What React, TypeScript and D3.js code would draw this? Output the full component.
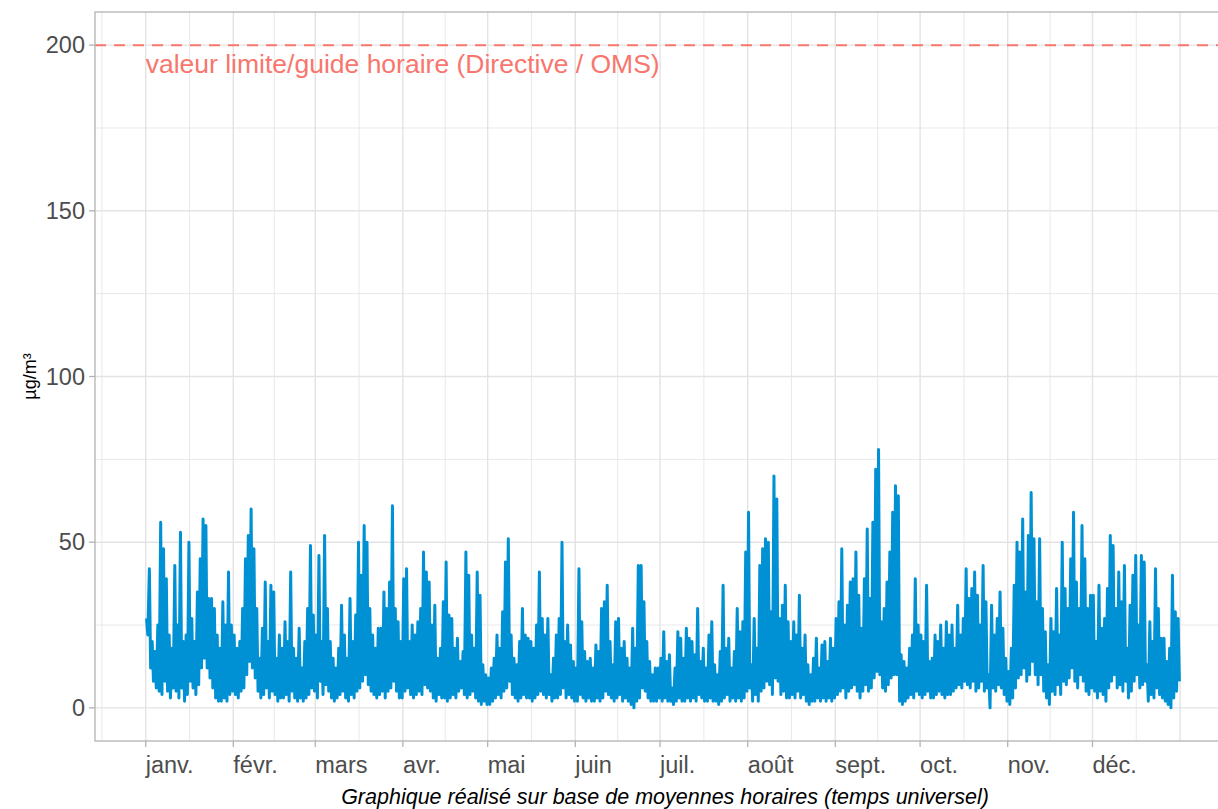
import React from "react";
import * as d3 from "d3";

// Daily maxima (µg/m³), 2024, per month
const hiJan = [27,42,20,17,25,56,48,39,22,18,43,25,53,20,22,50,27,20,35,45,57,55,33,33,30,22,18,32,25,41,25];
const hiFeb = [22,18,20,30,45,52,60,48,30,15,24,38,20,37,35,15,22,18,26,20,41,18,15,24,12,20,30,49,28];
const hiMar = [22,46,20,52,30,20,15,12,18,31,22,15,33,20,28,50,40,55,50,30,22,18,24,24,35,30,38,61,30,26,20];
const hiApr = [39,42,20,25,22,26,30,47,41,38,25,31,15,18,32,44,28,27,18,21,14,17,47,40,22,18,41,34,13,10];
const hiMay = [9,12,15,22,18,29,44,51,22,15,13,20,30,22,21,20,18,25,41,27,22,27,10,15,22,27,50,20,25,19,14];
const hiJun = [12,42,26,17,14,15,12,19,17,30,32,37,20,13,26,27,18,20,15,12,24,18,43,43,32,20,14,10,12,12];
const hiJul = [15,23,14,16,6,12,23,21,15,24,21,20,16,30,14,18,12,22,26,13,10,17,37,18,21,12,17,30,23,26,47];
const hiAug = [59,13,27,18,43,48,51,50,29,70,63,27,31,37,26,20,26,22,34,18,22,13,10,15,21,12,19,20,14,21,18];
const hiSep = [27,32,48,25,31,38,39,47,34,24,39,54,33,56,72,78,26,30,38,47,59,67,64,16,14,12,18,22,39,25];
const hiOct = [22,20,37,14,15,22,20,25,18,26,22,25,18,31,22,27,42,33,36,41,34,25,43,32,10,31,22,27,35,24,15];
const hiNov = [11,18,37,50,47,57,35,52,65,51,32,51,30,23,13,27,23,36,22,50,36,30,45,59,38,30,55,45,30,34];
const hiDec = [34,20,37,24,27,36,52,49,30,41,32,43,18,31,40,46,25,46,44,13,26,20,42,30,21,21,14,18,40,29,27];

// Daily minima (µg/m³), 2024, per month
const loJan = [22,12,8,6,5,4,8,5,3,6,5,3,6,2,4,8,6,4,7,12,15,12,9,6,3,2,2,3,2,4,5];
const loFeb = [4,3,5,6,10,14,12,9,5,3,4,6,3,5,4,2,3,3,4,2,5,3,2,3,2,3,4,6,5];
const loMar = [3,8,4,7,5,3,2,3,4,5,3,2,4,3,5,6,8,10,7,5,4,3,4,5,3,5,6,8,5,3,3];
const loApr = [5,6,4,3,4,5,4,7,6,5,3,2,4,3,3,2,3,4,3,5,6,4,3,4,5,3,2,1,2,1];
const loMay = [1,2,3,4,3,5,6,8,4,3,2,3,4,3,3,2,3,4,5,4,3,4,2,3,3,4,6,3,4,3,2];
const loJun = [2,4,3,2,3,2,2,3,2,3,5,4,3,2,3,4,2,3,2,1,0,2,3,6,5,3,2,2,2,3];
const loJul = [2,3,2,2,1,2,3,2,2,3,2,3,2,4,3,2,2,3,2,2,1,2,3,4,2,3,2,3,2,3,5];
const loAug = [6,2,4,2,5,6,8,7,4,9,8,4,5,3,3,4,3,5,3,4,2,1,2,2,3,2,3,2,3,2,3];
const loSep = [4,5,6,3,5,6,7,5,3,5,7,5,6,9,11,10,6,5,7,9,10,10,2,1,2,3,4,3,5,4];
const loOct = [3,4,5,3,3,4,5,4,3,4,4,5,6,7,6,8,7,6,8,5,6,8,5,6,0,6,5,7,6,4,2];
const loNov = [1,3,6,9,10,12,8,10,14,10,7,10,5,3,1,5,4,7,4,8,7,9,12,8,6,10,8,5,4,6];
const loDec = [5,3,5,4,2,6,8,10,6,7,5,8,3,5,8,10,6,7,8,2,4,3,6,4,3,2,1,0,3,5,8];

const monthLabels = ["janv.","févr.","mars","avr.","mai","juin","juil.","août","sept.","oct.","nov.","déc."];
const yTicks = [0, 50, 100, 150, 200];
const limitValue = 200;
const limitLabel = "valeur limite/guide horaire (Directive / OMS)";
const yTitle = "µg/m³";
const caption = "Graphique réalisé sur base de moyennes horaires (temps universel)";

const hiAll = [hiJan,hiFeb,hiMar,hiApr,hiMay,hiJun,hiJul,hiAug,hiSep,hiOct,hiNov,hiDec].flat();
const loAll = [loJan,loFeb,loMar,loApr,loMay,loJun,loJul,loAug,loSep,loOct,loNov,loDec].flat();

const DAY = 86400000;
const start = Date.UTC(2024, 0, 1);
const end = Date.UTC(2025, 0, 1);

type Pt = { t: number; v: number };
const series: Pt[] = [];
hiAll.forEach((h, i) => {
  series.push({ t: start + (i + 0.3) * DAY, v: h });
  series.push({ t: start + (i + 0.75) * DAY, v: loAll[i] });
});

export default function App() {
  const W = 1218, H = 809;
  const left = 95, top = 12, bottom = 741;
  const x = d3.scaleUtc().domain([start, end]).range([145.7, 1180.1]);
  const pad = 0.05 * (x(end) - x(start));
  const right = x(end) + pad;
  const y = d3.scaleLinear().domain([-10, 210]).range([bottom, top]);

  const monthStarts = d3.range(-1, 13).map((m) => Date.UTC(2024, m, 1));
  const major = monthStarts.map((t) => x(t));
  const minor: number[] = [];
  for (let i = 0; i < major.length - 1; i++) minor.push((major[i] + major[i + 1]) / 2);
  const yMinor = [25, 75, 125, 175].map((v) => y(v));

  const line = d3.line<Pt>().x((d) => x(d.t)).y((d) => y(d.v));

  const gridCol = "#e3e3e3";
  const font = "'Liberation Sans', Arial, sans-serif";

  return (
    <svg width={W} height={H} style={{ position: "absolute", left: 0, top: 0, background: "#fff" }} fontFamily={font}>
      <defs>
        <clipPath id="panel">
          <rect x={left} y={top} width={right - left} height={bottom - top} />
        </clipPath>
      </defs>
      <g clipPath="url(#panel)">
        {yMinor.map((py, i) => (
          <line key={"ym" + i} x1={left} x2={right} y1={py} y2={py} stroke={gridCol} strokeWidth={0.8} />
        ))}
        {minor.map((px, i) => (
          <line key={"xm" + i} x1={px} x2={px} y1={top} y2={bottom} stroke={gridCol} strokeWidth={0.8} />
        ))}
        {yTicks.map((v) => (
          <line key={"yM" + v} x1={left} x2={right} y1={y(v)} y2={y(v)} stroke={gridCol} strokeWidth={1.4} />
        ))}
        {major.map((px, i) => (
          <line key={"xM" + i} x1={px} x2={px} y1={top} y2={bottom} stroke={gridCol} strokeWidth={1.4} />
        ))}
        <path d={line(series) || ""} fill="none" stroke="#0091d5" strokeWidth={3} strokeLinejoin="round" />
        <line x1={left} x2={right} y1={y(limitValue)} y2={y(limitValue)} stroke="#F8766D" strokeWidth={2} strokeDasharray="11,8" />
        <text x={x(start)} y={y(limitValue) + 28} fill="#F8766D" fontSize={26.5}>{limitLabel}</text>
      </g>
      <rect x={left} y={top} width={right - left} height={bottom - top} fill="none" stroke="#b3b3b3" strokeWidth={1.3} />
      {yTicks.map((v) => (
        <g key={"yt" + v}>
          <line x1={left - 6} x2={left} y1={y(v)} y2={y(v)} stroke="#b3b3b3" strokeWidth={1.3} />
          <text x={left - 10} y={y(v)} dy="0.35em" textAnchor="end" fill="#4d4d4d" fontSize={23.5}>{v}</text>
        </g>
      ))}
      {monthLabels.map((lab, i) => {
        const px = x(Date.UTC(2024, i, 1));
        return (
          <g key={lab}>
            <line x1={px} x2={px} y1={bottom} y2={bottom + 6} stroke="#b3b3b3" strokeWidth={1.3} />
            <text x={px} y={bottom + 32} fill="#4d4d4d" fontSize={23.5}>{lab}</text>
          </g>
        );
      })}
      <text transform={`translate(36,${(top + bottom) / 2}) rotate(-90)`} textAnchor="middle" fontSize={18} fill="#000">{yTitle}</text>
      <text x={665} y={804} textAnchor="middle" fontSize={21.5} fontStyle="italic" fill="#000">{caption}</text>
    </svg>
  );
}
